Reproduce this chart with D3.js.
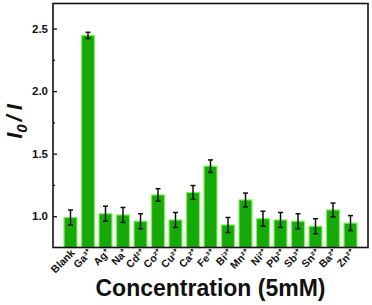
<!DOCTYPE html>
<html>
<head>
<meta charset="utf-8">
<script src="https://cdn.jsdelivr.net/npm/d3@7"></script>
<style>
  body { margin: 0; background: #fff; }
  svg { display: block; font-family: "Liberation Sans", Arial, sans-serif; }
</style>
</head>
<body>
<div id="chart"></div>
<script>
const ions = ['Blank', 'Ga³⁺', 'Ag⁺', 'Na⁺', 'Cd²⁺', 'Co²⁺', 'Cu²⁺', 'Ca²⁺', 'Fe³⁺',
              'Bi³⁺', 'Mn²⁺', 'Ni²⁺', 'Pb²⁺', 'Sb³⁺', 'Sn²⁺', 'Ba²⁺', 'Zn²⁺'];
const ratio = [0.99, 2.445, 1.02, 1.01, 0.96, 1.17, 0.97, 1.19, 1.40,
               0.93, 1.13, 0.98, 0.97, 0.96, 0.92, 1.05, 0.945];
const errs  = [0.06, 0.025, 0.06, 0.06, 0.06, 0.05, 0.06, 0.055, 0.05,
               0.06, 0.055, 0.06, 0.06, 0.06, 0.06, 0.055, 0.06];
const majorTicks = [1.0, 1.5, 2.0, 2.5];
const minorTicks = [1.25, 1.75, 2.25];

const W = 372, H = 305;
const margin = { top: 3.5, right: 4, bottom: 57.5, left: 53 },
      width = W - margin.left - margin.right,
      height = H - margin.top - margin.bottom;

const svg = d3.select("#chart")
              .append("svg")
              .attr("width", W)
              .attr("height", H)
              .append("g")
              .attr("transform", `translate(${margin.left},${margin.top})`);

const x = d3.scaleBand()
            .domain(ions)
            .range([0, width])
            .paddingInner(0.26)
            .paddingOuter(0.63);

const y = d3.scaleLinear()
            .domain([0.75, 2.7])
            .range([height, 0]);

// bars
svg.selectAll('rect.bar')
   .data(ions)
   .enter()
   .append('rect')
   .attr('class', 'bar')
   .attr('x', d => x(d))
   .attr('y', (d, i) => y(ratio[i]))
   .attr('width', x.bandwidth())
   .attr('height', (d, i) => height - y(ratio[i]))
   .style('fill', '#17a80a')
   .style('stroke', '#7df25a')
   .style('stroke-width', 1.2);

// error bars
const eb = svg.selectAll('g.err')
   .data(ions)
   .enter()
   .append('g')
   .attr('class', 'err')
   .attr('transform', d => `translate(${x(d) + x.bandwidth() / 2},0)`)
   .style('stroke', '#111')
   .style('stroke-width', 1.5);
eb.append('line')
  .attr('y1', (d, i) => y(ratio[i] - errs[i]))
  .attr('y2', (d, i) => y(ratio[i] + errs[i]));
eb.append('line')
  .attr('x1', -2.5).attr('x2', 2.5)
  .attr('y1', (d, i) => y(ratio[i] + errs[i]))
  .attr('y2', (d, i) => y(ratio[i] + errs[i]));
eb.append('line')
  .attr('x1', -2.5).attr('x2', 2.5)
  .attr('y1', (d, i) => y(ratio[i] - errs[i]))
  .attr('y2', (d, i) => y(ratio[i] - errs[i]));

// y axis, ticks pointing in
const yAxis = svg.append("g")
   .call(d3.axisLeft(y).tickValues(majorTicks).tickFormat(d3.format(".1f"))
           .tickSizeInner(-4).tickSizeOuter(0).tickPadding(5));
yAxis.select(".domain").remove();
yAxis.selectAll("text")
     .style("font-size", "11.5px")
     .style("font-weight", "bold")
     .attr("fill", "#111");
yAxis.selectAll("line").attr("stroke", "#111").attr("stroke-width", 1.3);
svg.append("g")
   .call(d3.axisLeft(y).tickValues(minorTicks).tickSize(-2).tickFormat(""))
   .call(g => g.select(".domain").remove())
   .selectAll("line").attr("stroke", "#111").attr("stroke-width", 1.2);

// x axis labels, rotated
const xAxis = svg.append("g")
   .attr("transform", `translate(0,${height})`)
   .call(d3.axisBottom(x).tickSize(0).tickPadding(0));
xAxis.select(".domain").remove();
xAxis.selectAll("text")
     .style("font-size", "10.5px")
     .style("font-weight", "bold")
     .attr("fill", "#111")
     .attr("text-anchor", "end")
     .attr("dy", null)
     .attr("transform", "translate(5,6) rotate(-45)");

// frame
svg.append("rect")
   .attr("width", width)
   .attr("height", height)
   .attr("fill", "none")
   .attr("stroke", "#111")
   .attr("stroke-width", 1.6);

// titles
svg.append("text")
   .attr("x", width / 2)
   .attr("y", height + 48.5)
   .attr("text-anchor", "middle")
   .style("font-size", "23px")
   .style("font-weight", "bold")
   .attr("fill", "#111")
   .text("Concentration (5mM)");

const yt = svg.append("text")
   .attr("transform", `translate(${-31},${height / 2 - 4}) rotate(-90)`)
   .attr("text-anchor", "middle")
   .style("font-size", "22px")
   .style("font-weight", "bold")
   .style("font-style", "italic")
   .attr("fill", "#111");
yt.append("tspan").text("I");
yt.append("tspan").attr("dy", 5).style("font-size", "15px").text("0");
yt.append("tspan").attr("dy", -5).attr("dx", 3).text("/");
yt.append("tspan").attr("dx", 5).text("I");
</script>
</body>
</html>
